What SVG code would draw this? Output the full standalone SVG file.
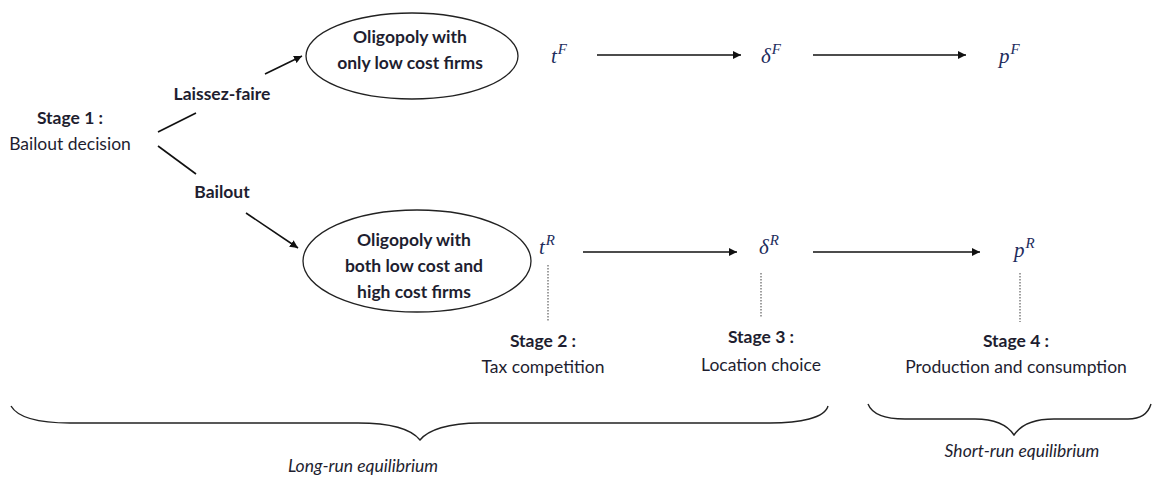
<svg xmlns="http://www.w3.org/2000/svg" width="1152" height="480" viewBox="0 0 1152 480">
<style>
.t{font-family:Lato,"Open Sans","Liberation Sans",sans-serif;font-size:17.5px;fill:#1e1e30;text-anchor:middle}
.b{font-weight:bold}
.i{font-style:italic}
.m{font-family:"Liberation Serif","DejaVu Serif",serif;font-style:italic;font-size:21px;fill:#1c2c5c}
.m tspan{font-size:15px}
.c{stroke:#111;stroke-width:1.6;fill:none}
.a{stroke:#111;stroke-width:1.6;fill:none;marker-end:url(#ah)}
.d{stroke:#777;stroke-width:1.4;stroke-dasharray:1.5 1.5;fill:none}
.e{fill:#fff;stroke:#222;stroke-width:1.3}
.br{stroke:#222;stroke-width:1.4;fill:none}
</style>
<defs>
<marker id="ah" viewBox="0 0 10 10" refX="10" refY="5" markerWidth="8" markerHeight="8" markerUnits="userSpaceOnUse" orient="auto">
<path d="M0,0 L10,5 L0,10 z" fill="#111"/>
</marker>
</defs>
<rect width="1152" height="480" fill="#fff"/>
<g id="stage1">
<text class="t b" x="70" y="124">Stage 1 :</text>
<text class="t" x="70" y="150">Bailout decision</text>
</g>
<g id="oligopoly-low">
<ellipse class="e" cx="412" cy="56" rx="106" ry="43"/>
<text class="t b" x="410" y="43">Oligopoly with</text>
<text class="t b" x="410" y="69">only low cost firms</text>
</g>
<g id="oligopoly-both">
<ellipse class="e" cx="417" cy="261" rx="114" ry="51"/>
<text class="t b" x="414" y="246">Oligopoly with</text>
<text class="t b" x="414" y="272">both low cost and</text>
<text class="t b" x="414" y="298">high cost firms</text>
</g>
<g id="tF"><text class="m" x="551" y="63">t<tspan dx="1" dy="-9">F</tspan></text></g>
<g id="dF"><text class="m" x="761" y="63">δ<tspan dx="1" dy="-9">F</tspan></text></g>
<g id="pF"><text class="m" x="999" y="63">p<tspan dx="1" dy="-9">F</tspan></text></g>
<g id="tR"><text class="m" x="539" y="254">t<tspan dx="1" dy="-9">R</tspan></text></g>
<g id="dR"><text class="m" x="759" y="254">δ<tspan dx="1" dy="-9">R</tspan></text></g>
<g id="pR"><text class="m" x="1014" y="257">p<tspan dx="1" dy="-9">R</tspan></text></g>
<g id="stage2">
<text class="t b" x="543" y="347">Stage 2 :</text>
<text class="t" x="543" y="373">Tax competition</text>
</g>
<g id="stage3">
<text class="t b" x="761" y="343">Stage 3 :</text>
<text class="t" x="761" y="371">Location choice</text>
</g>
<g id="stage4">
<text class="t b" x="1016" y="347">Stage 4 :</text>
<text class="t" x="1016" y="373">Production and consumption</text>
</g>
<g id="labels">
<text class="t b" x="222" y="100">Laissez-faire</text>
<text class="t b" x="222" y="198">Bailout</text>
</g>
<g id="connectors">
<line class="c" x1="158" y1="132" x2="196" y2="113"/>
<line class="a" x1="265" y1="74" x2="302" y2="56"/>
<line class="c" x1="158" y1="146" x2="196" y2="174"/>
<line class="a" x1="246" y1="213" x2="298" y2="248"/>
<line class="a" x1="597" y1="55" x2="741" y2="55"/>
<line class="a" x1="813" y1="55" x2="966" y2="55"/>
<line class="a" x1="583" y1="252" x2="737" y2="252"/>
<line class="a" x1="813" y1="252" x2="980" y2="252"/>
<line class="d" x1="548" y1="265" x2="548" y2="322"/>
<line class="d" x1="761" y1="273" x2="761" y2="317"/>
<line class="d" x1="1020" y1="273" x2="1020" y2="322"/>
</g>
<g id="long-run">
<path class="br" d="M11,406 C18,418 40,423 70,423 L358,423 C392,423 412,430 420,440 C428,430 448,423 480,423 L770,423 C800,423 825,418 828,406"/>
<text class="t i" x="363" y="472">Long-run equilibrium</text>
</g>
<g id="short-run">
<path class="br" d="M868,404 C872,414 885,419 905,419 L975,419 C996,419 1008,426 1014,435 C1020,426 1032,419 1054,419 L1128,419 C1140,419 1148,414 1151,404"/>
<text class="t i" x="1022" y="457">Short-run equilibrium</text>
</g>
</svg>
